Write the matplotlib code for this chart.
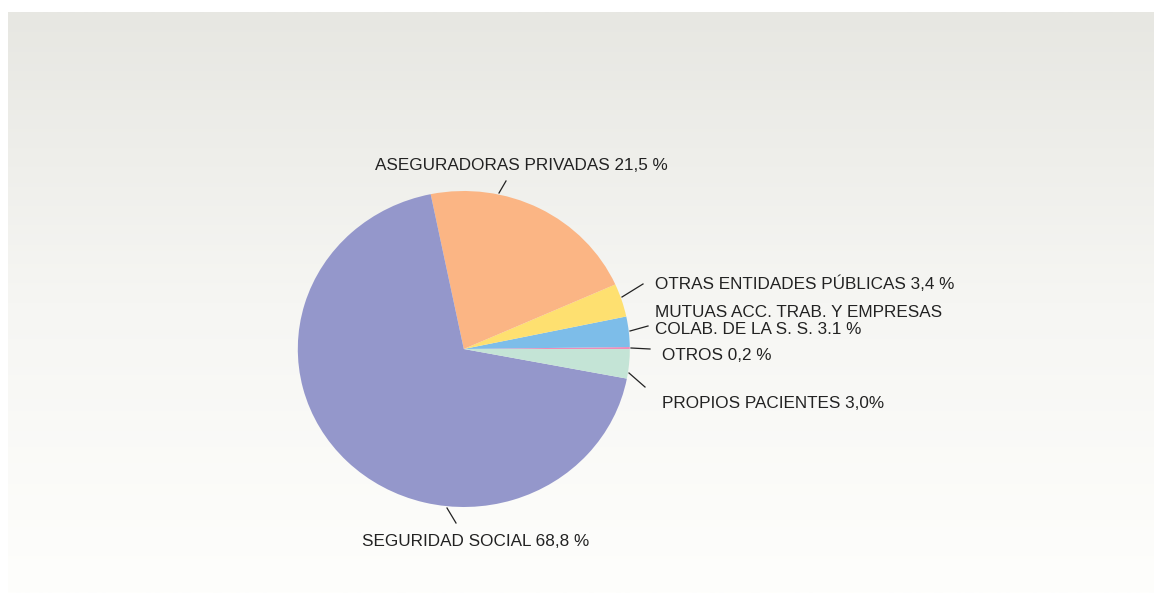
import numpy as np
import matplotlib.pyplot as plt
from matplotlib.colors import LinearSegmentedColormap

plt.rcParams["font.family"] = ["Liberation Sans", "DejaVu Sans"]

# slices in drawing order (counter-clockwise from 3 o'clock)
categories = ["OTROS", "MUTUAS ACC. TRAB. Y EMPRESAS\nCOLAB. DE LA S. S.", "OTRAS ENTIDADES PÚBLICAS",
              "ASEGURADORAS PRIVADAS", "SEGURIDAD SOCIAL", "PROPIOS PACIENTES"]
shares = [0.2, 3.1, 3.4, 21.5, 68.8, 3.0]
value_labels = ["0,2 %", "3.1 %", "3,4 %", "21,5 %", "68,8 %", "3,0%"]
colors = ["#f08cb8", "#7dbde9", "#fee070", "#fbb584", "#9497cb", "#c4e4d6"]

W, H = 1155, 593
fig = plt.figure(figsize=(W / 100, H / 100), dpi=100)
fig.patch.set_facecolor("white")

# gradient panel
bg = fig.add_axes([8 / W, 0, (1154 - 8) / W, (H - 12) / H])
grad = LinearSegmentedColormap.from_list("bg", ["#e7e7e2", "#f6f6f3", "#fefefc"])
bg.imshow(np.linspace(0, 1, 256).reshape(-1, 1), aspect="auto", cmap=grad, extent=[0, 1, 0, 1])
bg.set_axis_off()

# pie axes spanning whole figure, scaled so the pie is slightly wider than tall
cx, cy, rx, ry = 463.8, 349.0, 166.0, 158.0
ax = fig.add_axes([0, 0, 1, 1])
ax.patch.set_alpha(0)
ax.pie(shares, colors=colors, startangle=0, counterclock=True, radius=1,
       wedgeprops=dict(linewidth=0))
ax.set_aspect("auto")
ax.set_xlim(-cx / rx, (W - cx) / rx)
ax.set_ylim(-(H - cy) / ry, cy / ry)
ax.set_axis_off()

# overlay in pixel coordinates for labels and leader lines
ov = fig.add_axes([0, 0, 1, 1])
ov.set_xlim(0, W)
ov.set_ylim(H, 0)
ov.set_axis_off()
ov.patch.set_alpha(0)

# label anchor (x, y, ha) and leader line ends per slice
label_pos = [(662, 356, "left"), (655, 321, "left"), (655, 284, "left"),
             (521, 166, "center"), (362, 542, "left"), (662, 403, "left")]
leaders = [((631, 348), (650, 349)), ((630, 331), (648, 326)), ((622, 297), (643, 284)),
           ((499, 193), (506, 181)), ((447, 508), (456, 523)), ((629, 373), (645, 387))]

for cat, val, (x, y, ha), (p0, p1) in zip(categories, value_labels, label_pos, leaders):
    ov.plot([p0[0], p1[0]], [p0[1], p1[1]], color="#222222", lw=0.9)
    ov.text(x, y, f"{cat} {val}", ha=ha, va="center", fontsize=12.35, color="#222222",
            linespacing=1.2)

fig.savefig("out.png", dpi=100)
